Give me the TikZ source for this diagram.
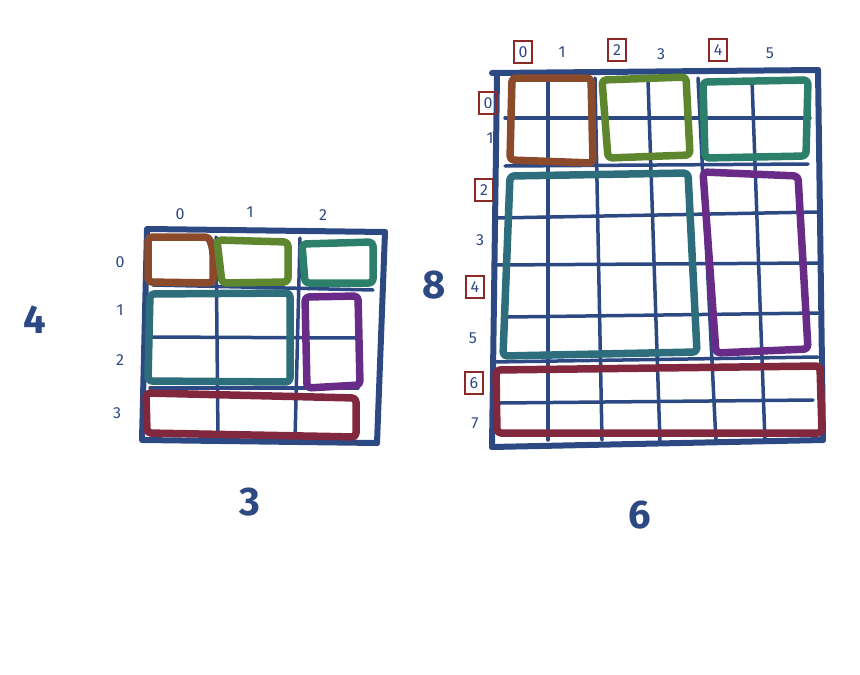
\documentclass[tikz,border=0pt]{standalone}
\usepackage{fontspec}
\setmainfont{Fira Sans}
\definecolor{dblue}{RGB}{45,73,132}
\definecolor{cbrown}{RGB}{139,74,43}
\definecolor{colive}{RGB}{94,134,46}
\definecolor{ctealg}{RGB}{44,127,106}
\definecolor{ctealb}{RGB}{46,110,124}
\definecolor{cpurp}{RGB}{104,44,136}
\definecolor{cwine}{RGB}{130,40,62}
\definecolor{cred}{RGB}{140,40,40}
\begin{document}
\begin{tikzpicture}[x=1pt,y=-1pt,
  frameline/.style={line width=6pt,dblue,line cap=round},
  gridline/.style={line width=3.5pt,dblue,line cap=round},
  cbox/.style={line width=7.5pt,rounded corners=4pt,line join=round},
  lab/.style={text=dblue,font=\fontsize{16}{16}\selectfont,inner sep=0pt},
  blab/.style={text=dblue,font=\fontsize{40}{40}\selectfont\bfseries,inner sep=0pt},
  rlab/.style={lab,draw=cred,line width=2.5pt,minimum width=18pt,minimum height=22pt}]
\useasboundingbox (0,0) rectangle (860,675);
% ---------- left grid ----------
\draw[gridline] (216,237) -- (218,438);
\draw[gridline] (300,238) -- (295,440);
\draw[gridline] (153,285) -- (373,290);
\draw[gridline] (150,337) -- (357,338);
\draw[gridline] (150,388) -- (358,388);
\draw[frameline] (148,229) -- (385,232);
\draw[frameline] (385,232) -- (377,443);
\draw[frameline] (143,440) -- (377,443);
\draw[frameline] (147,229) -- (142,440);
\draw[cbox,cbrown] (148,237) -- (209,237) -- (213,250) -- (213,283) -- (148,282) -- cycle;
\draw[cbox,colive] (217,240) -- (288,242) -- (288,282) -- (222,283) -- cycle;
\draw[cbox,ctealg] (302,244) -- (373,242) -- (373,283) -- (305,283) -- cycle;
\draw[cbox,ctealb] (150,294) -- (290,293) -- (290,382) -- (148,381) -- cycle;
\draw[cbox,cpurp] (305,297) -- (358,296) -- (360,385) -- (307,388) -- cycle;
\draw[cbox,cwine] (146,393) -- (356,398) -- (356,437) -- (147,433) -- cycle;
\node[lab] (lc0) at (180,214) {0};
\node[lab] (lc1) at (250,212) {1};
\node[lab] (lc2) at (323,215) {2};
\node[lab] (lr0) at (120,262) {0};
\node[lab] (lr1) at (120,310) {1};
\node[lab] (lr2) at (120,360) {2};
\node[lab] (lr3) at (117,413) {3};
\node[blab] (lrows) at (35,320) {4};
\node[blab] (lcols) at (250,502) {3};
% ---------- right grid ----------
\draw[gridline] (548,80) -- (548,440);
\draw[gridline] (595,78) -- (602,440);
\draw[gridline] (648,80) -- (660,442);
\draw[gridline] (698,78) -- (716,442);
\draw[gridline] (752,80) -- (765,442);
\draw[gridline] (505,118) -- (810,118);
\draw[gridline] (505,166) -- (808,164);
\draw[gridline] (497,218) -- (818,212);
\draw[gridline] (493,265) -- (818,263);
\draw[gridline] (508,317) -- (818,313);
\draw[gridline] (492,362) -- (818,357);
\draw[gridline] (500,403) -- (813,400);
\draw[frameline] (492,73) -- (818,70);
\draw[frameline] (818,70) -- (823,440);
\draw[frameline] (492,447) -- (823,440);
\draw[frameline] (497,75) -- (492,447);
\draw[cbox,cbrown] (512,78) -- (591,78) -- (593,163) -- (510,160) -- cycle;
\draw[cbox,colive] (602,80) -- (686,77) -- (690,155) -- (608,158) -- cycle;
\draw[cbox,ctealg] (703,82) -- (808,80) -- (806,156) -- (705,158) -- cycle;
\draw[cbox,ctealb] (510,176) -- (688,173) -- (697,352) -- (503,356) -- cycle;
\draw[cbox,cpurp] (703,172) -- (798,176) -- (808,349) -- (716,353) -- cycle;
\draw[cbox,cwine] (496,370) -- (820,366) -- (822,433) -- (497,433) -- cycle;
\node[rlab] (rc0) at (523,52) {0};
\node[lab] (rc1) at (562,52) {1};
\node[rlab] (rc2) at (617,50) {2};
\node[lab] (rc3) at (661,54) {3};
\node[rlab] (rc4) at (718,50) {4};
\node[lab] (rc5) at (770,53) {5};
\node[rlab] (rr0) at (488,103) {0};
\node[lab] (rr1) at (490,138) {1};
\node[rlab] (rr2) at (484,190) {2};
\node[lab] (rr3) at (480,240) {3};
\node[rlab] (rr4) at (475,287) {4};
\node[lab] (rr5) at (473,338) {5};
\node[rlab] (rr6) at (474,383) {6};
\node[lab] (rr7) at (475,423) {7};
\node[blab] (rrows) at (434,285) {8};
\node[blab] (rcols) at (640,515) {6};
\end{tikzpicture}
\end{document}
